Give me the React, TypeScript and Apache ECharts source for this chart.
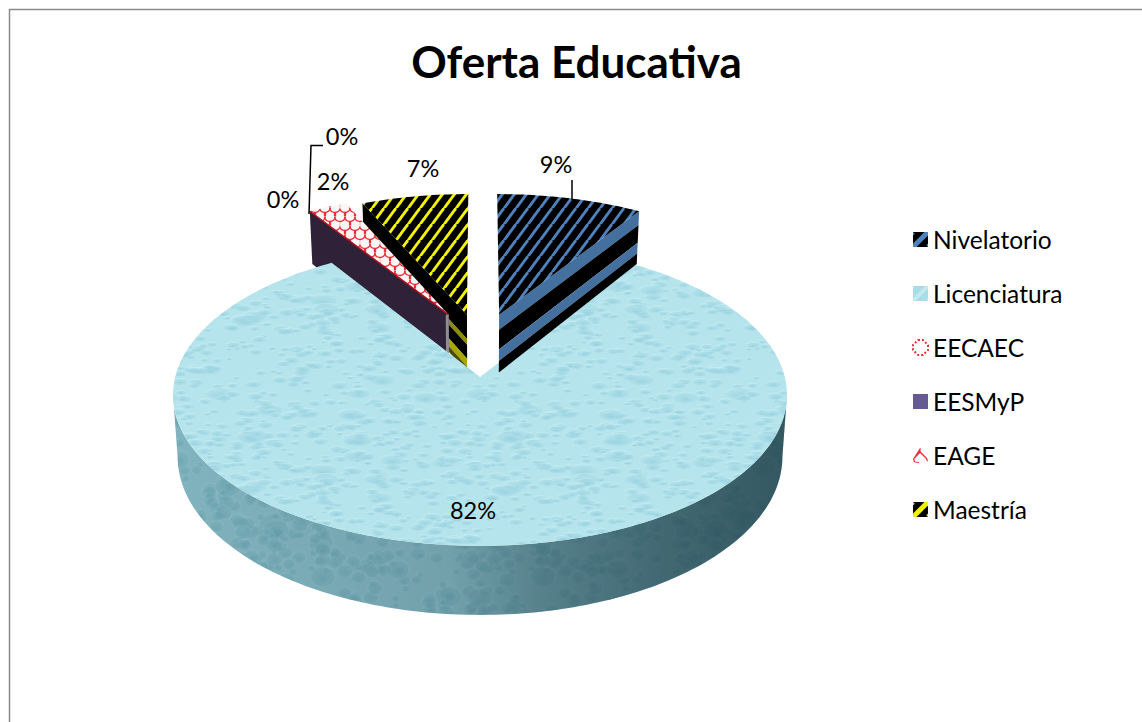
import React, { useEffect, useRef } from "react";
import * as echarts from "echarts";

const TITLE = "Oferta Educativa";
const CATEGORIES = ["Nivelatorio", "Licenciatura", "EECAEC", "EESMyP", "EAGE", "Maestría"];
const VALUES = [9, 82, 0, 0, 2.4, 6.6];

const FONT = "Lato";
const CX = 480, Y0 = 377, R = 304.8, S = 148.8, K = 0.119, D = 60.8;
const TOTAL = VALUES.reduce((a, b) => a + b, 0);

// Explosion vector per slice, on the unit disc of the pie.
const EXPLODE: Record<string, [number, number]> = {
  Nivelatorio: [0.066, 0.44],
  Licenciatura: [0, 0],
  EECAEC: [-0.108, 0.44],
  EESMyP: [-0.108, 0.44],
  EAGE: [-0.108, 0.44],
  "Maestría": [-0.045, 0.44],
};
const Z: Record<string, number> = { "Maestría": 2, EAGE: 3, EESMyP: 4, EECAEC: 5, Licenciatura: 6, Nivelatorio: 7 };
const LABEL_POS: Record<string, [number, number]> = {
  Nivelatorio: [556, 164],
  Licenciatura: [473, 510],
  EECAEC: [342, 136],
  EESMyP: [283, 199],
  EAGE: [333, 181],
  "Maestría": [423, 168],
};

function angles(i: number): [number, number] {
  let acc = 0;
  for (let k = 0; k < i; k++) acc += VALUES[k];
  return [(acc / TOTAL) * Math.PI * 2, ((acc + VALUES[i]) / TOTAL) * Math.PI * 2];
}
function pt(theta: number, r: number, ex: [number, number], bottom = false): number[] {
  const u = Math.sin(theta) * r + ex[0];
  const v = Math.cos(theta) * r + ex[1];
  const den = 1 + K * v;
  const sx = bottom ? 0.985 : 1;
  return [CX + (R * u * sx) / den, Y0 - (S * v) / den + (bottom ? D / den : 0)];
}
function arc(a: number, b: number, ex: [number, number], bottom = false): number[][] {
  const n = Math.max(2, Math.ceil(Math.abs(b - a) / 0.02));
  const out: number[][] = [];
  for (let k = 0; k <= n; k++) out.push(pt(a + ((b - a) * k) / n, 1, ex, bottom));
  return out;
}
const lerp = (p: number[], q: number[], t: number) => [p[0] + (q[0] - p[0]) * t, p[1] + (q[1] - p[1]) * t];
function poly(points: number[][], style: any) {
  return { type: "polygon", shape: { points }, style };
}
function faceBands(theta: number, ex: [number, number], bands: [number, number, string][]) {
  const a1 = pt(0, 0, ex), a2 = pt(theta, 1, ex), b1 = pt(0, 0, ex, true), b2 = pt(theta, 1, ex, true);
  return bands.map(([s, e, c]) =>
    poly([lerp(a1, b1, s), lerp(a2, b2, s), lerp(a2, b2, e), lerp(a1, b1, e)], { fill: c })
  );
}

function canvas(w: number, h: number) {
  const c = document.createElement("canvas");
  c.width = w;
  c.height = h;
  return c;
}
function pattern(c: HTMLCanvasElement) {
  return { image: c, repeat: "repeat", imageWidth: c.width, imageHeight: c.height } as any;
}
function stripes(w: number, h: number, back: string, front: string, lw: number) {
  const c = canvas(w, h);
  const g = c.getContext("2d")!;
  g.fillStyle = back;
  g.fillRect(0, 0, w, h);
  g.strokeStyle = front;
  g.lineWidth = lw;
  for (const dx of [-w, 0, w]) {
    g.beginPath();
    g.moveTo(dx, h);
    g.lineTo(dx + w, 0);
    g.stroke();
  }
  return pattern(c);
}
function hash(n: number) {
  const s = Math.sin(n * 127.1 + 11.7) * 43758.5453;
  return s - Math.floor(s);
}
function water(base: string, dark: string, halo: string, light: string, W: number, H: number, flat: number, count: number) {
  const c = canvas(W, H);
  const g = c.getContext("2d")!;
  g.fillStyle = base;
  g.fillRect(0, 0, W, H);
  for (let i = 0; i < count; i++) {
    const x = hash(i) * W, y = hash(i + 500) * H;
    const big = i % 23 === 0;
    const rx = big ? 13 + hash(i + 900) * 5 : 3.5 + hash(i + 900) * 6.5;
    for (const ox of [-W, 0, W]) for (const oy of [-H, 0, H]) {
      const px = x + ox, py = y + oy;
      if (px < -30 || px > W + 30 || py < -30 || py > H + 30) continue;
      g.save();
      g.translate(px, py);
      g.scale(1, flat);
      const gr = g.createRadialGradient(0, rx * 0.4, 0, 0, 0, rx);
      gr.addColorStop(0, dark);
      gr.addColorStop(0.75, halo);
      gr.addColorStop(1, "rgba(200,235,240,0)");
      g.fillStyle = gr;
      g.beginPath();
      g.arc(0, 0, rx, 0, Math.PI * 2);
      g.fill();
      g.strokeStyle = light;
      g.lineWidth = 1;
      g.beginPath();
      g.arc(0, 0, rx, Math.PI * 1.1, Math.PI * 1.7);
      g.stroke();
      g.restore();
    }
  }
  return pattern(c);
}
function scales() {
  const c = canvas(20, 18);
  const g = c.getContext("2d")!;
  g.fillStyle = "#fdf6f6";
  g.fillRect(0, 0, 20, 18);
  g.strokeStyle = "#e8303a";
  g.lineWidth = 1.3;
  for (const [cx, cy] of [[0, 0], [10, 0], [20, 0], [5, 9], [15, 9], [0, 18], [10, 18], [20, 18]]) {
    g.beginPath();
    g.arc(cx, cy, 5.5, 0.1, Math.PI - 0.1);
    g.stroke();
    g.beginPath();
    g.moveTo(cx - 5.5, cy);
    g.lineTo(cx - 5.5, cy - 4);
    g.moveTo(cx + 5.5, cy);
    g.lineTo(cx + 5.5, cy - 4);
    g.stroke();
  }
  return pattern(c);
}

export default function App() {
  const ref = useRef<HTMLDivElement>(null);
  useEffect(() => {
    const chart = echarts.init(ref.current!, undefined, { renderer: "svg", width: 1142, height: 722 });
    const nivTop = stripes(12, 16.5 as any, "#000000", "#4f81bd", 2.8);
    const maeTop = stripes(12, 16.5 as any, "#000000", "#f4f400", 2.8);
    const waterTop = water("#b6e4ec", "rgba(150,208,222,0.85)", "rgba(165,218,230,0.45)", "rgba(200,238,243,0.8)", 260, 170, 0.38, 420);
    const waterSide = water("#86b9c4", "rgba(105,165,178,0.55)", "rgba(115,172,184,0.3)", "rgba(150,200,210,0.2)", 220, 110, 0.8, 200);
    const brick = scales();
    const extR = Math.acos(-K), extL = Math.PI * 2 - extR;

    const draw = (i: number): any[] => {
      const name = CATEGORIES[i];
      const ex = EXPLODE[name];
      const [a0, a1] = angles(i);
      const out: any[] = [];
      const apex = pt(0, 0, ex);
      if (name === "Nivelatorio") {
        out.push(...faceBands(a1, ex, [
          [0, 0.26, "#44709f"], [0.26, 0.6, "#000000"], [0.6, 0.8, "#44709f"], [0.8, 1, "#000000"],
        ]));
        out.push(poly([apex, ...arc(a0, a1, ex)], { fill: nivTop }));
      } else if (name === "Licenciatura") {
        const top = arc(a0, a1, ex);
        const side = [...arc(extR, extL, ex), ...arc(extR, extL, ex, true).reverse()];
        out.push(poly(side, { fill: waterSide }));
        out.push(poly(side, {
          fill: {
            type: "linear", x: 0, y: 0, x2: 1, y2: 0,
            colorStops: [
              { offset: 0, color: "rgba(20,50,60,0.04)" },
              { offset: 0.45, color: "rgba(20,50,60,0.18)" },
              { offset: 0.6, color: "rgba(20,50,60,0.42)" },
              { offset: 0.8, color: "rgba(20,50,60,0.6)" },
              { offset: 1, color: "rgba(20,50,60,0.72)" },
            ],
          },
        }));
        out.push(poly([apex, ...top], { fill: waterTop }));
      } else if (name === "Maestría") {
        out.push(...faceBands(a0, ex, [
          [0, 0.42, "#000000"], [0.42, 0.52, "#8c8c00"], [0.52, 0.76, "#000000"], [0.76, 0.9, "#a8a800"], [0.9, 1, "#4a4a00"],
        ]));
        out.push(poly([apex, ...arc(a0, a1, ex)], { fill: maeTop }));
      } else if (name === "EAGE") {
        out.push(poly([apex, ...arc(a0, a1, ex)], { fill: brick }));
      } else if (name === "EESMyP") {
        const b = pt(0, 0, ex, true);
        const c1 = pt(a0, 1, ex), c2 = pt(a0, 1, ex, true);
        out.push(poly([apex, c1, c2, b], { fill: "#2f2238" }));
        out.push({ type: "line", shape: { x1: apex[0], y1: apex[1], x2: c1[0], y2: c1[1] }, style: { stroke: "#b01020", lineWidth: 1.5, fill: "none" } });
      } else if (name === "EECAEC") {
        const b = pt(0, 0, ex, true);
        out.push(poly([[apex[0] - 3, apex[1]], apex, b, [b[0] - 3, b[1]]], { fill: "#8e8e8e" }));
      }
      const pos = LABEL_POS[name];
      out.push({
        type: "text",
        z2: 20,
        style: {
          text: Math.round((VALUES[i] / TOTAL) * 100) + "%",
          x: pos[0], y: pos[1], align: "center", verticalAlign: "middle",
          fontFamily: FONT, fontSize: 23.5, fill: "#000000",
        },
      });
      return out;
    };

    const legendStyle: Record<string, any> = {
      Nivelatorio: { icon: "rect", itemStyle: { color: stripes(15, 15, "#000000", "#4f81bd", 5) } },
      Licenciatura: { icon: "rect", itemStyle: { color: stripes(15, 15, "#a6dde6", "#c4e9ee", 4) } },
      EECAEC: {
        icon: "path://M5,0 L10,0 L15,5 L15,10 L10,15 L5,15 L0,10 L0,5 Z",
        itemStyle: { color: "#ffffff", borderColor: "#e8303a", borderWidth: 2, borderType: "dotted" },
      },
      EESMyP: { icon: "rect", itemStyle: { color: "#665a92" } },
      EAGE: {
        icon: "path://M7,0 L7.6,0 L7.6,3.4 L14,10 L15,13 L14,13.4 L12.8,10.6 L7,5 L1.4,11 L2,13.4 L6,14 L6,14.8 L1,14.2 L0,11 Z",
        itemStyle: { color: "#e8303a" },
      },
      "Maestría": { icon: "rect", itemStyle: { color: stripes(15, 15, "#000000", "#f0f000", 5) } },
    };

    chart.setOption({
      animation: false,
      backgroundColor: "#ffffff",
      title: {
        text: TITLE,
        left: 571.5,
        top: 34,
        textAlign: "center",
        textStyle: { fontFamily: FONT, fontSize: 44, fontWeight: "bold", color: "#000000" },
      },
      legend: {
        orient: "vertical",
        left: 907,
        top: 222,
        itemWidth: 15,
        itemHeight: 15,
        itemGap: 29,
        selectedMode: false,
        textStyle: { fontFamily: FONT, fontSize: 24.5, color: "#000000", lineHeight: 25 },
        data: CATEGORIES.map((name) => ({ name, ...legendStyle[name] })),
      },
      graphic: [
        {
          type: "rect",
          z: 100,
          shape: { x: 9.5, y: 9.5, width: 1300, height: 900 },
          style: { fill: "none", stroke: "#8a8a8a", lineWidth: 1.5 },
          silent: true,
        },
        {
          type: "polyline",
          z: 100,
          shape: { points: [[572, 180], [572, 200]] },
          style: { fill: "none", stroke: "#000000", lineWidth: 1.5 },
          silent: true,
        },
        {
          type: "polyline",
          z: 100,
          shape: { points: [[309, 214], [311, 145.5], [323, 145.5]] },
          style: { fill: "none", stroke: "#000000", lineWidth: 1.5 },
          silent: true,
        },
      ],
      series: CATEGORIES.map((name, i) => ({
        type: "custom",
        name,
        coordinateSystem: "none",
        z: Z[name],
        silent: true,
        data: [[VALUES[i]]],
        renderItem: () => ({ type: "group", children: draw(i) }),
      })),
    });
    return () => chart.dispose();
  }, []);
  return <div ref={ref} style={{ position: "fixed", left: 0, top: 0, width: 1142, height: 722 }} />;
}
